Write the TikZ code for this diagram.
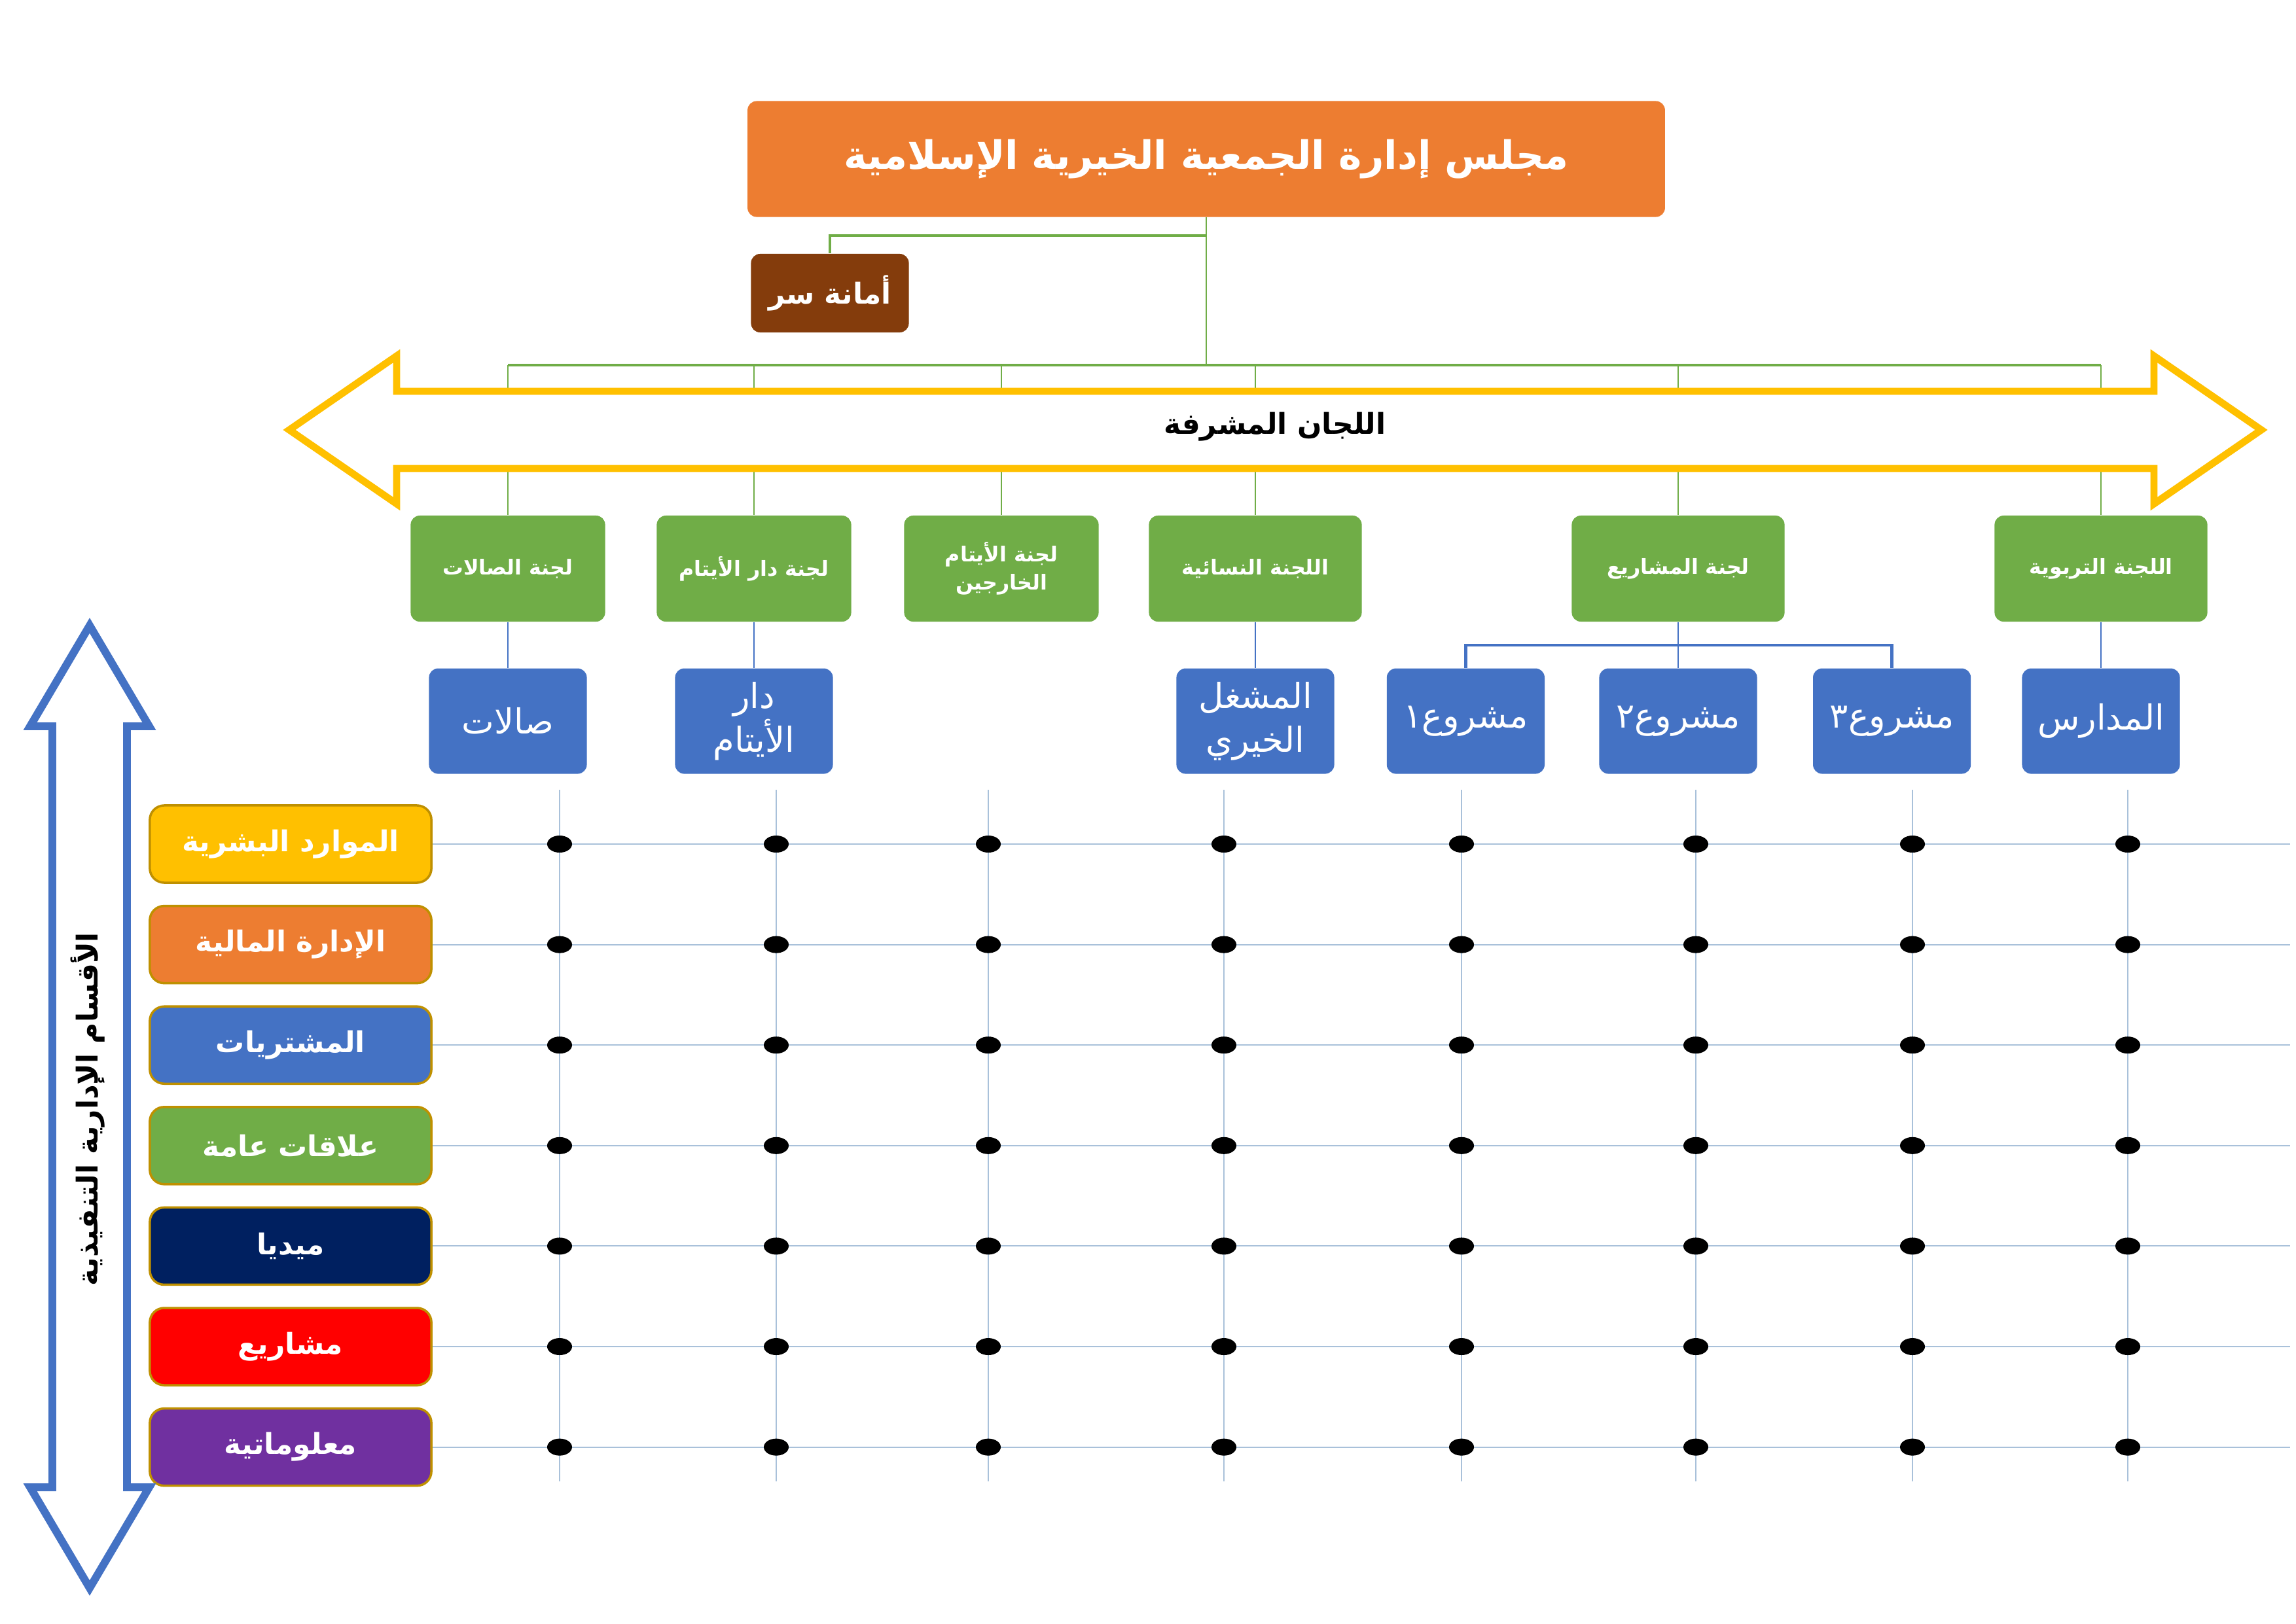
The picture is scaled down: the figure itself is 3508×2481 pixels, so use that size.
\documentclass[tikz,border=0pt]{standalone}
\usepackage{fontspec}
\usetikzlibrary{positioning, calc}
\newfontfamily\arfont[Script=Arabic]{DejaVu Sans}
\TeXXeTstate=1
\newcommand{\artext}[1]{\beginR#1\endR}

\definecolor{boardorange}{HTML}{ED7D31}
\definecolor{secbrown}{HTML}{843C0C}
\definecolor{comgreen}{HTML}{70AD47}
\definecolor{unitblue}{HTML}{4472C4}
\definecolor{supyellow}{HTML}{FFC000}
\definecolor{deptgold}{HTML}{BF9000}
\definecolor{medianavy}{HTML}{002060}
\definecolor{projred}{HTML}{FF0000}
\definecolor{infopurple}{HTML}{7030A0}
\definecolor{gridblue}{HTML}{A9C1DA}

\begin{document}
\begin{tikzpicture}[
    x=0.01cm, y=-0.01cm,
    box/.style={rounded corners=0.14cm, inner sep=0pt, align=center, text=white},
    board/.style={box, fill=boardorange, minimum width=14.01cm, minimum height=1.77cm, font=\arfont\bfseries\fontsize{17}{21}\selectfont},
    secbox/.style={box, fill=secbrown, minimum width=2.41cm, minimum height=1.2cm, font=\arfont\bfseries\fontsize{12.5}{15}\selectfont},
    committee/.style={box, fill=comgreen, minimum width=2.97cm, minimum height=1.62cm, font=\arfont\bfseries\fontsize{9}{12}\selectfont},
    unit/.style={box, fill=unitblue, minimum width=2.41cm, minimum height=1.61cm, font=\arfont\fontsize{15}{19}\selectfont},
    dept/.style={box, rounded corners=0.22cm, draw=deptgold, line width=1pt, minimum width=4.3cm, minimum height=1.18cm, font=\arfont\bfseries\fontsize{12.5}{15}\selectfont},
    greenline/.style={draw=comgreen, line width=0.8pt},
    greenbus/.style={draw=comgreen, line width=1.3pt},
    blueline/.style={draw=unitblue, line width=0.8pt},
    bluebus/.style={draw=unitblue, line width=1.3pt},
    suparrow/.style={draw=supyellow, fill=white, line width=3.1pt},
    execarrow/.style={draw=unitblue, fill=white, line width=3.4pt},
    bigtext/.style={inner sep=0pt, text=black, font=\arfont\bfseries\fontsize{12.5}{15}\selectfont},
    gridline/.style={draw=gridblue, line width=0.6pt}
]
\useasboundingbox (0,0) rectangle (3508,2481);
\fill[white] (0,0) rectangle (3508,2481);

% Board and secretary
\node[board] (board) at (1843,243) {\artext{مجلس إدارة الجمعية الخيرية الإسلامية}};
\node[secbox] (sec) at (1268,448) {\artext{أمانة سر}};

% Supervising committees
\node[committee] (halls) at (776,869) {\artext{لجنة الصالات}};
\node[committee] (orphcom) at (1152,869) {\artext{لجنة دار الأيتام}};
\node[committee] (extcom) at (1530,869) {\artext{لجنة الأيتام}\\\artext{الخارجين}};
\node[committee, minimum width=3.25cm] (women) at (1918,869) {\artext{اللجنة النسائية}};
\node[committee, minimum width=3.25cm] (projcom) at (2564,869) {\artext{لجنة المشاريع}};
\node[committee, minimum width=3.25cm] (educom) at (3210,869) {\artext{اللجنة التربوية}};

% Units
\node[unit, below=0.7cm of halls] (hallsu) {\artext{صالات}};
\node[unit, below=0.7cm of orphcom] (orphu) {\artext{دار}\\\artext{الأيتام}};
\node[unit, below=0.7cm of women] (workshop) {\artext{المشغل}\\\artext{الخيري}};
\node[unit, below=0.7cm of projcom] (proj2) {\artext{مشروع٢}};
\node[unit, left=0.82cm of proj2] (proj1) {\artext{مشروع١}};
\node[unit, right=0.84cm of proj2] (proj3) {\artext{مشروع٣}};
\node[unit, below=0.7cm of educom] (schools) {\artext{المدارس}};

% Departments
\node[dept, fill=supyellow] (hr) at (444,1290) {\artext{الموارد البشرية}};
\node[dept, fill=boardorange, below=0.32cm of hr] (finance) {\artext{الإدارة المالية}};
\node[dept, fill=unitblue, below=0.32cm of finance] (purchase) {\artext{المشتريات}};
\node[dept, fill=comgreen, below=0.32cm of purchase] (relations) {\artext{علاقات عامة}};
\node[dept, fill=medianavy, below=0.32cm of relations] (media) {\artext{ميديا}};
\node[dept, fill=projred, below=0.32cm of media] (projects) {\artext{مشاريع}};
\node[dept, fill=infopurple, below=0.32cm of projects] (infosys) {\artext{معلوماتية}};

% Connectors
\coordinate (hub) at (1843,558);
\coordinate (secjoin) at (1843,360);
\draw[greenline] (board.south) -- (hub);
\draw[greenbus] (secjoin) -| (sec.north);
\draw[greenbus] (hub -| halls) -- (hub -| educom);
\foreach \c in {halls,orphcom,extcom,women,projcom,educom}
    \draw[greenline] (hub -| \c) -- (\c.north);

\draw[blueline] (halls.south) -- (hallsu.north);
\draw[blueline] (orphcom.south) -- (orphu.north);
\draw[blueline] (women.south) -- (workshop.north);
\draw[blueline] (educom.south) -- (schools.north);
\draw[blueline] (projcom.south) -- (proj2.north);
\coordinate (pbus) at ($(projcom.south)!0.5!(proj2.north)$);
\draw[bluebus] (proj1.north) |- (pbus) -| (proj3.north);

% Double arrows
\draw[suparrow] (442,657) -- (606,544) -- (606,598) -- (3291,598) -- (3291,544) -- (3455,657)
    -- (3291,770) -- (3291,716) -- (606,716) -- (606,770) -- cycle;
\node[bigtext] (supervise) at (1948,652) {\artext{اللجان المشرفة}};

\draw[execarrow] (137,956) -- (228,1110) -- (194,1110) -- (194,2273) -- (228,2273) -- (137,2427)
    -- (46,2273) -- (80,2273) -- (80,1110) -- (46,1110) -- cycle;
\node[bigtext, rotate=90] (execs) at (134,1695) {\artext{الأقسام الإدارية التنفيذية}};

% Grid
\coordinate (gridend) at (3499,0);
\foreach \gx in {855,1186,1510,1870,2233,2591,2922,3251}
    \draw[gridline] (\gx,1207) -- (\gx,2264);
\foreach \d in {hr,finance,purchase,relations,media,projects,infosys}
    \draw[gridline] (\d.east) -- (\d.east -| gridend);
\foreach \gx in {855,1186,1510,1870,2233,2591,2922,3251}
    \foreach \d in {hr,finance,purchase,relations,media,projects,infosys}
        \fill[black] (\d.east -| \gx,0) ellipse [x radius=0.19cm, y radius=0.13cm];
\end{tikzpicture}
\end{document}
